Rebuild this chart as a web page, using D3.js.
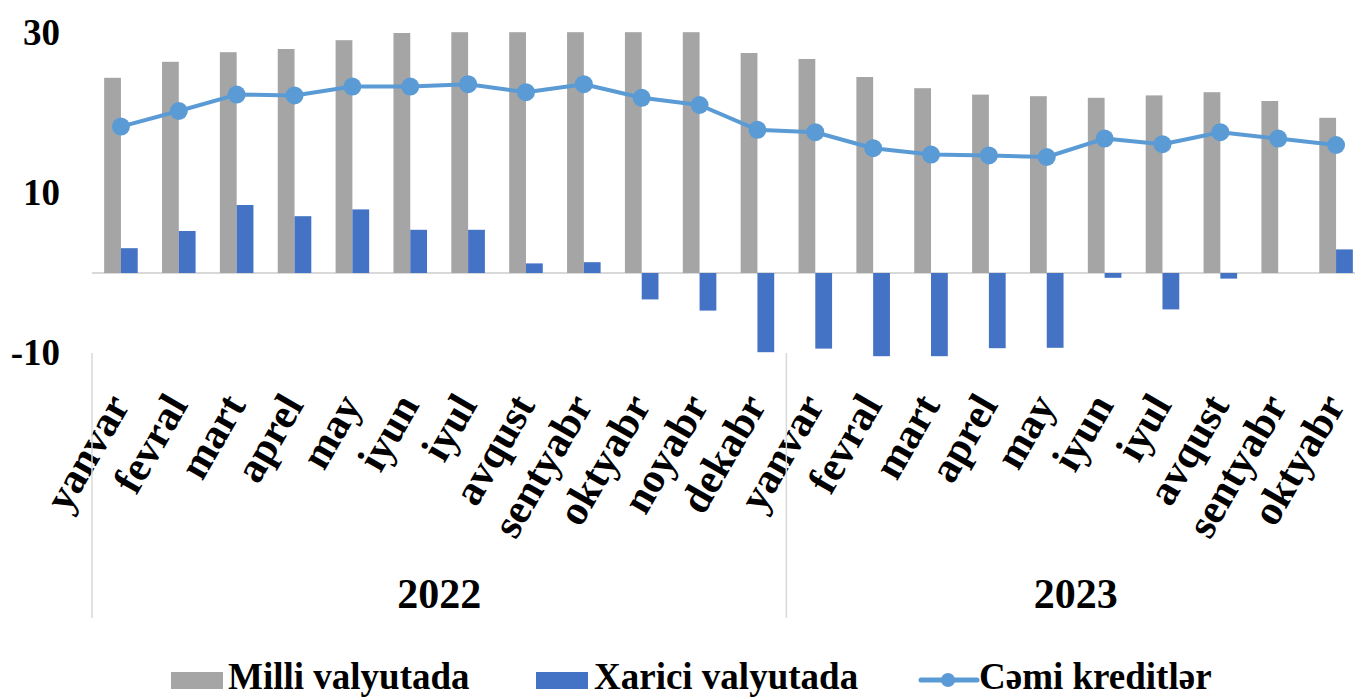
<!DOCTYPE html>
<html>
<head>
<meta charset="utf-8">
<script src="https://cdn.jsdelivr.net/npm/d3@7"></script>
<style>
  body { margin: 0; background: #fff; }
</style>
</head>
<body>
<div id="canvas"></div>
<script>
"use strict"

/* data */
let months = ["yanvar", "fevral", "mart", "aprel", "may", "iyun", "iyul", "avqust", "sentyabr", "oktyabr", "noyabr", "dekabr",
              "yanvar", "fevral", "mart", "aprel", "may", "iyun", "iyul", "avqust", "sentyabr", "oktyabr"];
let years = ["2022", "2023"];
let yearCounts = [12, 10];
let milli = [24.4, 26.4, 27.6, 28.0, 29.1, 30.0, 30.1, 30.1, 30.1, 30.1, 30.1, 27.5,
             26.75, 24.5, 23.1, 22.3, 22.1, 21.9, 22.2, 22.6, 21.5, 19.4];
let xarici = [3.1, 5.25, 8.5, 7.1, 7.95, 5.4, 5.4, 1.2, 1.35, -3.3, -4.7, -9.9,
              -9.45, -10.4, -10.4, -9.4, -9.35, -0.6, -4.55, -0.7, 0, 2.95];
let cemi = [18.3, 20.25, 22.3, 22.2, 23.3, 23.3, 23.6, 22.6, 23.6, 21.9, 21.0, 17.9,
            17.6, 15.6, 14.8, 14.7, 14.5, 16.8, 16.1, 17.6, 16.8, 16.0];
let yTicks = [-10, 10, 30];
let seriesNames = ["Milli valyutada", "Xarici valyutada", "Cəmi kreditlər"];
let colors = ["#a5a5a5", "#4472c4", "#5b9bd5"];

/* drawing config */
let svgWidth = 1355;
let svgHeight = 698;
let plotLeft = 92, plotRight = 1365, plotTop = 33, plotBottom = 353;
let serif = "'Liberation Serif', 'Times New Roman', Times, 'DejaVu Serif', serif";

let svg = d3.select("#canvas")
    .append("svg")
    .attr("width", svgWidth)
    .attr("height", svgHeight)
    .attr("font-family", serif)
    .attr("font-weight", "bold");

let idx = months.map((m, i) => i);

let xScale = d3.scaleBand()
    .domain(idx)
    .range([plotLeft, plotRight]);

let yScale = d3.scaleLinear()
    .domain([-10, 30])
    .range([plotBottom, plotTop]);

let barW = xScale.bandwidth() * 0.29;
let cx = i => xScale(i) + xScale.bandwidth() / 2;

/* y tick labels */
svg.selectAll(".ytick")
    .data(yTicks)
    .join("text")
    .attr("class", "ytick")
    .attr("x", 60)
    .attr("y", d => yScale(d) + 12)
    .attr("text-anchor", "end")
    .attr("font-size", 37)
    .text(d => d);

/* zero line */
svg.append("line")
    .attr("x1", plotLeft)
    .attr("x2", plotRight)
    .attr("y1", yScale(0))
    .attr("y2", yScale(0))
    .attr("stroke", "#d9d9d9")
    .attr("stroke-width", 2);

/* bars */
svg.selectAll(".milli")
    .data(milli)
    .join("rect")
    .attr("class", "milli")
    .attr("x", (d, i) => cx(i) - barW)
    .attr("width", barW)
    .attr("y", d => yScale(Math.max(0, d)))
    .attr("height", d => Math.abs(yScale(d) - yScale(0)))
    .attr("fill", colors[0]);

svg.selectAll(".xarici")
    .data(xarici)
    .join("rect")
    .attr("class", "xarici")
    .attr("x", (d, i) => cx(i))
    .attr("width", barW)
    .attr("y", d => yScale(Math.max(0, d)))
    .attr("height", d => Math.abs(yScale(d) - yScale(0)))
    .attr("fill", colors[1]);

/* line */
let line = d3.line()
    .x((d, i) => cx(i))
    .y(d => yScale(d));

svg.append("path")
    .datum(cemi)
    .attr("d", line)
    .attr("fill", "none")
    .attr("stroke", colors[2])
    .attr("stroke-width", 4)
    .attr("stroke-linejoin", "round");

svg.selectAll(".dot")
    .data(cemi)
    .join("circle")
    .attr("class", "dot")
    .attr("cx", (d, i) => cx(i))
    .attr("cy", d => yScale(d))
    .attr("r", 9)
    .attr("fill", colors[2]);

/* month labels */
svg.selectAll(".month")
    .data(months)
    .join("text")
    .attr("class", "month")
    .attr("text-anchor", "end")
    .attr("font-size", 42)
    .attr("transform", (d, i) => "translate(" + (cx(i) + 10) + "," + 405 + ") rotate(-60)")
    .text(d => d);

/* year groups and separators */
let start = 0;
let bounds = [0];
years.forEach((y, k) => {
    let a = plotLeft + start * xScale.step();
    let b = a + yearCounts[k] * xScale.step();
    svg.append("text")
        .attr("x", (a + b) / 2)
        .attr("y", 608)
        .attr("text-anchor", "middle")
        .attr("font-size", 42)
        .text(y);
    start += yearCounts[k];
    bounds.push(start);
});

svg.selectAll(".sep")
    .data(bounds)
    .join("line")
    .attr("class", "sep")
    .attr("x1", d => plotLeft + d * xScale.step())
    .attr("x2", d => plotLeft + d * xScale.step())
    .attr("y1", plotBottom)
    .attr("y2", 618)
    .attr("stroke", "#d9d9d9")
    .attr("stroke-width", 1.5);

/* legend */
let legend = svg.append("g").attr("font-size", 37);
legend.append("rect")
    .attr("x", 171).attr("y", 672).attr("width", 52).attr("height", 17)
    .attr("fill", colors[0]);
legend.append("text")
    .attr("x", 228).attr("y", 689)
    .text(seriesNames[0]);

legend.append("rect")
    .attr("x", 536).attr("y", 672).attr("width", 52).attr("height", 17)
    .attr("fill", colors[1]);
legend.append("text")
    .attr("x", 594).attr("y", 689)
    .text(seriesNames[1]);

legend.append("line")
    .attr("x1", 921).attr("x2", 977).attr("y1", 680).attr("y2", 680)
    .attr("stroke", colors[2]).attr("stroke-width", 5).attr("stroke-linecap", "round");
legend.append("circle")
    .attr("cx", 948).attr("cy", 680).attr("r", 7)
    .attr("fill", colors[2]);
legend.append("text")
    .attr("x", 979).attr("y", 689)
    .text(seriesNames[2]);
</script>
</body>
</html>
